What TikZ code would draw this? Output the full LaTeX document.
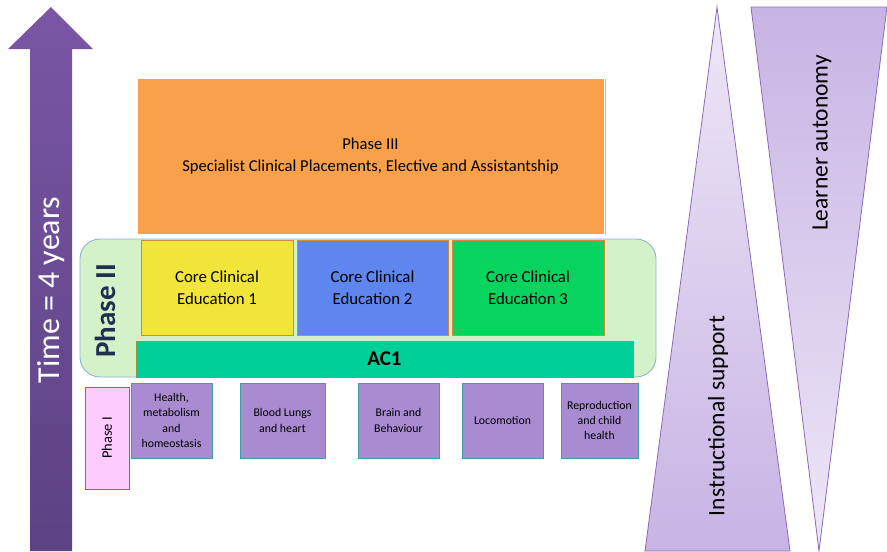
\documentclass[tikz,border=0pt]{standalone}
\usepackage{fontspec}
\setmainfont{Carlito}
\begin{document}
\begin{tikzpicture}[x=1pt,y=-1pt,
  box/.style={rectangle,inner sep=0pt,align=center,text=black,line width=0.9pt},
  core/.style={box,draw=coreline,minimum width=152pt,minimum height=95pt,
    font=\fontsize{16.8}{22}\selectfont},
  module/.style={box,fill=modfill,draw=modline,minimum height=75pt,
    font=\fontsize{11.8}{15.2}\selectfont},
  wedge/.style={draw=wedgeline,line width=0.8pt}
]
\definecolor{orangefill}{HTML}{F9A04B}
\definecolor{phasetwo}{HTML}{D4F2C9}
\definecolor{phasetwoline}{HTML}{8CB4D6}
\definecolor{coreline}{HTML}{D4893A}
\definecolor{coreone}{HTML}{F2E53A}
\definecolor{coretwo}{HTML}{5F86EE}
\definecolor{corethree}{HTML}{06D45E}
\definecolor{acfill}{HTML}{00CF9A}
\definecolor{acline}{HTML}{8E9C3F}
\definecolor{modfill}{HTML}{A98BD1}
\definecolor{modline}{HTML}{3C9DAC}
\definecolor{phaseonefill}{HTML}{FFCCFF}
\definecolor{phaseoneline}{HTML}{A050C0}
\definecolor{arrowtop}{HTML}{7A56A5}
\definecolor{arrowbottom}{HTML}{5C4283}
\definecolor{wedgelight}{HTML}{EEE7F7}
\definecolor{wedgedark}{HTML}{C7B4E4}
\definecolor{wedgeline}{HTML}{8A6BB8}
\definecolor{navy}{HTML}{1F2F4F}

% canvas
\useasboundingbox (0,0) rectangle (887,552);

% time arrow
\shade[top color=arrowtop,bottom color=arrowbottom]
  (30,551) -- (30,49) -- (8,49) -- (51,7) -- (93,49) -- (72,49) -- (72,551) -- cycle;
\node[rotate=90,text=white,font=\fontsize{32}{34}\selectfont] (time) at (51,290) {Time = 4 years};

% phase III
\fill[black!25] (139,79) rectangle (606,235);
\node[box,fill=orangefill,draw=white,minimum width=467pt,minimum height=156pt,
  font=\fontsize{16.6}{22}\selectfont] (p3) at (370.5,156)
  {Phase III\\Specialist Clinical Placements, Elective and Assistantship};

% phase II frame
\node[box,fill=phasetwo,draw=phasetwoline,rounded corners=20pt,
  minimum width=576pt,minimum height=138pt] (p2) at (368,308) {};
\node[rotate=90,text=navy,font=\bfseries\fontsize{29}{31}\selectfont] (p2label) at (105,311) {Phase II};

\node[core,fill=coreone] (c1) at (217,288) {Core Clinical\\Education 1};
\node[core,fill=coretwo,minimum width=151pt] (c2) at (372.5,288) {Core Clinical\\Education 2};
\node[core,fill=corethree] (c3) at (528,288) {Core Clinical\\Education 3};

\node[box,fill=acfill,draw=acline,minimum width=497pt,minimum height=36pt,
  font=\bfseries\fontsize{21}{23}\selectfont] (ac1) at (384.5,359) {AC1};

% phase I
\node[box,fill=phaseonefill,draw=phaseoneline,minimum width=44pt,minimum height=102pt] (p1) at (107,438) {};
\node[rotate=90,font=\fontsize{14.5}{16}\selectfont] (p1label) at (p1.center) {Phase I};

\node[module,minimum width=81pt] (m1) at (171.5,420.5) {Health,\\metabolism\\and\\homeostasis};
\node[module,minimum width=85pt] (m2) at (282.5,420.5) {Blood Lungs\\and heart};
\node[module,minimum width=81pt] (m3) at (398.5,420.5) {Brain and\\Behaviour};
\node[module,minimum width=81pt] (m4) at (502.5,420.5) {Locomotion};
\node[module,minimum width=77pt] (m5) at (599.5,420.5) {Reproduction\\and child\\health};

% instructional support
\shade[top color=wedgelight,bottom color=wedgedark] (717,7) -- (790,551) -- (645,551) -- cycle;
\draw[wedge] (717,7) -- (790,551) -- (645,551) -- cycle;
\node[rotate=90,font=\fontsize{23.5}{25}\selectfont] (instr) at (718,416) {Instructional support};

% learner autonomy
\shade[top color=wedgedark,bottom color=wedgelight] (751,7) -- (887,7) -- (819,551) -- cycle;
\draw[wedge] (751,7) -- (887,7) -- (819,551) -- cycle;
\node[rotate=90,font=\fontsize{23.5}{25}\selectfont] (auto) at (822,143) {Learner autonomy};
\end{tikzpicture}
\end{document}
